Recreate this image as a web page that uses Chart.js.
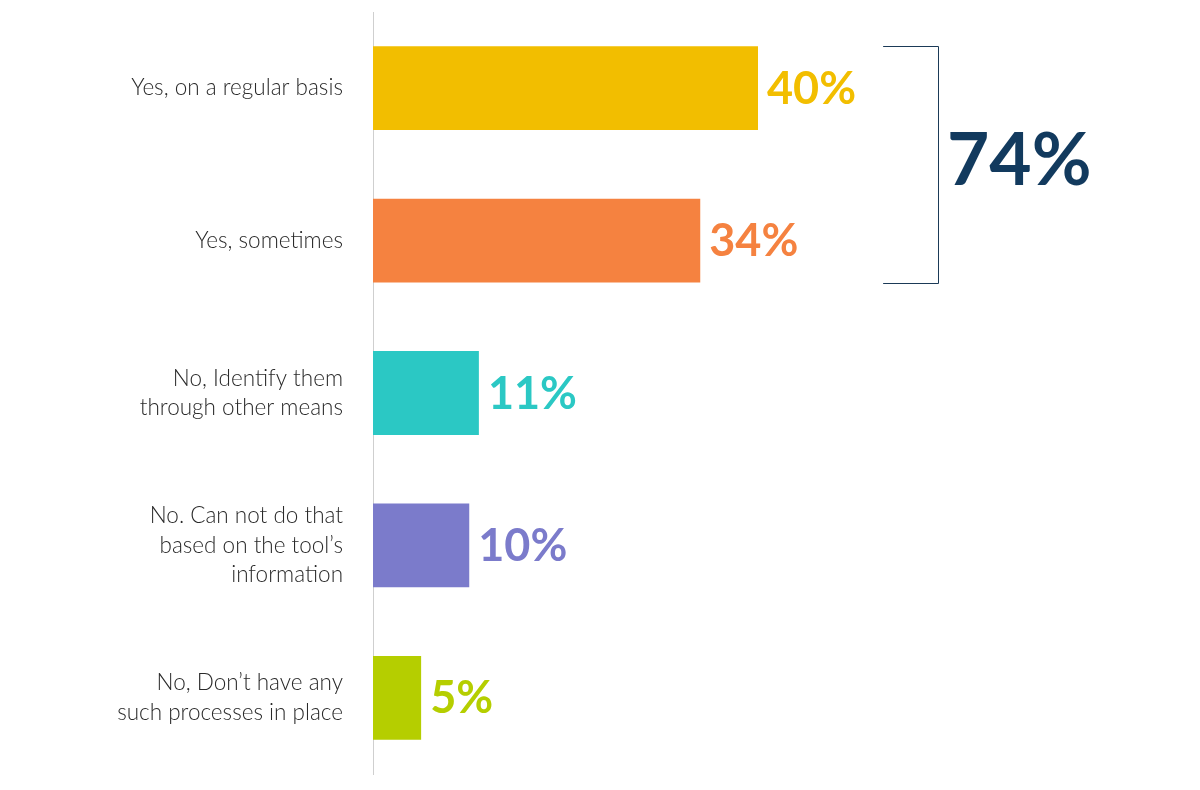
<!DOCTYPE html>
<html>
<head>
<meta charset="utf-8">
<script src="https://cdn.jsdelivr.net/npm/chart.js@4/dist/chart.umd.min.js"></script>
<style>
html,body{margin:0;padding:0;background:#fff;}
canvas{display:block;}
</style>
</head>
<body>
<canvas id="c" width="1200" height="790"></canvas>
<script>
const categories = [
  "Yes, on a regular basis",
  "Yes, sometimes",
  ["No, Identify them", "through other means"],
  ["No. Can not do that", "based on the tool\u2019s", "information"],
  ["No, Don\u2019t have any", "such processes in place"]
];
const values = [40, 34, 11, 10, 5];
const barColors = ["#F2BE00", "#F58240", "#2BC8C4", "#7B7BCB", "#B5CE00"];
const totalLabel = "74%";
const bracketGroup = [0, 1];

const valueLabels = {
  id: 'valueLabels',
  afterDatasetsDraw(chart) {
    const ctx = chart.ctx;
    const meta = chart.getDatasetMeta(0);
    ctx.save();
    ctx.font = "bold 45px Lato, 'Open Sans', sans-serif";
    ctx.textBaseline = 'middle';
    ctx.textAlign = 'left';
    meta.data.forEach((bar, i) => {
      ctx.fillStyle = barColors[i];
      ctx.fillText(values[i] + '%', bar.x + 9, bar.y + 1);
    });
    // bracket
    const b0 = meta.data[bracketGroup[0]], b1 = meta.data[bracketGroup[1]];
    const top = b0.y - b0.height / 2;
    const bottom = b1.y + b1.height / 2;
    const xs = chart.scales.x;
    const x1 = xs.getPixelForValue(53), x2 = xs.getPixelForValue(58.7);
    ctx.strokeStyle = '#1B3A57';
    ctx.lineWidth = 1;
    ctx.beginPath();
    ctx.moveTo(x1, Math.round(top) + 0.5);
    ctx.lineTo(Math.round(x2) + 0.5, Math.round(top) + 0.5);
    ctx.lineTo(Math.round(x2) + 0.5, Math.round(bottom) + 0.5);
    ctx.lineTo(x1, Math.round(bottom) + 0.5);
    ctx.stroke();
    ctx.fillStyle = '#123A5E';
    ctx.font = "bold 73px Lato, 'Open Sans', sans-serif";
    ctx.fillText(totalLabel, Math.round(x2) + 9, (top + bottom) / 2 - 3);
    ctx.restore();
  }
};

new Chart(document.getElementById('c'), {
  type: 'bar',
  data: {
    labels: categories,
    datasets: [{
      data: values,
      backgroundColor: barColors,
      borderWidth: 0,
      barPercentage: 0.55,
      categoryPercentage: 1.0
    }]
  },
  options: {
    indexAxis: 'y',
    responsive: false,
    animation: false,
    layout: { padding: { top: 12, bottom: 16, left: 0, right: 57 } },
    plugins: { legend: { display: false }, tooltip: { enabled: false } },
    scales: {
      x: { display: false, min: 0, max: 80 },
      y: {
        afterFit(scale) { scale.width = 373; scale.paddingTop = 0; scale.paddingBottom = 0; },
        grid: { display: false, drawTicks: false },
        border: { display: true, color: '#cfcfcf', width: 1 },
        ticks: {
          padding: 30,
          color: '#2a2a2a',
          font: { family: "'Source Sans Pro', Lato, 'Open Sans', sans-serif", size: 22.5, weight: '300', lineHeight: 1.3 }
        }
      }
    }
  },
  plugins: [valueLabels]
});
</script>
</body>
</html>
